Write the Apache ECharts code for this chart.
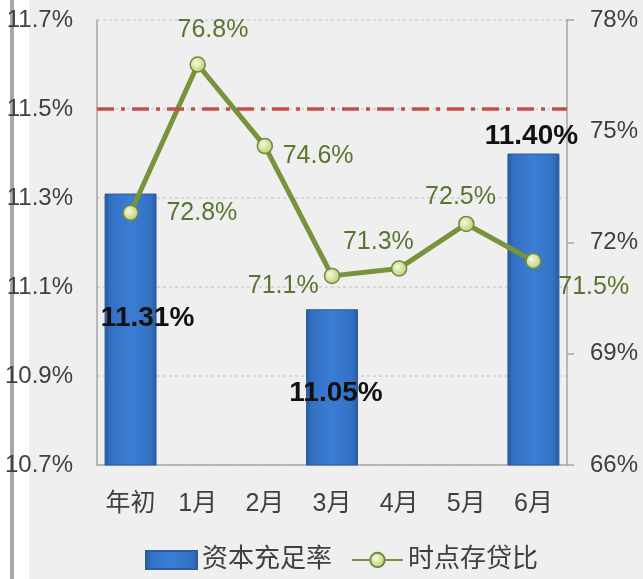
<!DOCTYPE html>
<html><head><meta charset="utf-8">
<script src="https://cdn.jsdelivr.net/npm/echarts@6/dist/echarts.min.js"></script>
<style>html,body{margin:0;padding:0;background:#efefef;}#c{width:643px;height:579px;}</style>
</head><body><div id="c"></div>
<script>
const categories = ['年初','1月','2月','3月','4月','5月','6月'];
const capitalRatio = [11.31, null, null, 11.05, null, null, 11.40];
const loanDepositRatio = [72.8, 76.8, 74.6, 71.1, 71.3, 72.5, 71.5];
const leftTicks = {min: 10.7, max: 11.7, step: 0.2};
const rightTicks = {min: 66, max: 78, step: 3};
const referenceLine = 11.5;
const seriesNames = ['资本充足率', '时点存贷比'];

// label placement (style, not data)
const barLabelPos = [[43, 125], null, null, [30, 84], null, null, [24, -17]];
const lineLabelOffset = [[72, 1], [16, -34], [54, 11], [-48, 11], [-20, -26], [-5, -26], [61, 27]];

const FONT = '"Liberation Sans", Arial, "Noto Sans CJK SC", sans-serif';
const SYM = 15;

const barData = capitalRatio.map((v, i) => {
  if (v === null) return null;
  const p = barLabelPos[i];
  return {
    value: v,
    label: {show: true, position: p, align: 'center', verticalAlign: 'middle'}
  };
});
const lineData = loanDepositRatio.map((v, i) => {
  const o = lineLabelOffset[i];
  return {
    value: v,
    label: {show: true, position: [SYM/2 + o[0], SYM/2 + o[1]], align: 'center', verticalAlign: 'middle'}
  };
});

const chart = echarts.init(document.getElementById('c'), null, {renderer: 'canvas'});
chart.setOption({
  backgroundColor: '#efefef',
  animation: false,
  graphic: [
    {type: 'rect', shape: {x: 0, y: 0, width: 29, height: 579}, style: {fill: '#ffffff'}, z: -10},
    {type: 'rect', shape: {x: 10, y: 0, width: 4, height: 579}, style: {fill: '#a8a8a8'}, z: -9}
  ],
  grid: {left: 97, right: 76, top: 20, bottom: 114},
  legend: {
    bottom: 1, left: 140,
    itemWidth: 51, itemHeight: 18, itemGap: 19,
    textStyle: {fontSize: 26, color: '#404040', fontFamily: FONT},
    data: [{name: seriesNames[0], icon: 'rect'}, {name: seriesNames[1]}]
  },
  xAxis: {
    type: 'category', data: categories,
    axisLine: {lineStyle: {color: '#a6a6a6', width: 1.5}},
    axisTick: {show: false},
    axisLabel: {fontSize: 25, color: '#404040', margin: 27, fontFamily: FONT, interval: 0, hideOverlap: false}
  },
  yAxis: [
    {
      type: 'value', min: leftTicks.min, max: leftTicks.max, interval: leftTicks.step,
      axisLine: {show: true, lineStyle: {color: '#a6a6a6', width: 1.5}},
      axisTick: {show: false},
      splitLine: {show: true, lineStyle: {color: '#cfcfcf', type: [3, 3], width: 1.5}},
      axisLabel: {fontSize: 24, color: '#404040', margin: 24, fontFamily: FONT,
        formatter: v => v.toFixed(1) + '%'}
    },
    {
      type: 'value', min: rightTicks.min, max: rightTicks.max, interval: rightTicks.step,
      position: 'right',
      axisLine: {show: true, lineStyle: {color: '#a6a6a6', width: 1.5}},
      axisTick: {show: true, length: 7, lineStyle: {color: '#a6a6a6', width: 1.5}},
      splitLine: {show: false},
      axisLabel: {fontSize: 24, color: '#404040', margin: 23, fontFamily: FONT,
        formatter: v => Math.round(v) + '%'}
    }
  ],
  series: [
    {
      name: seriesNames[0], type: 'bar', yAxisIndex: 0, barWidth: 52,
      data: barData,
      itemStyle: {
        color: {type: 'linear', x: 0, y: 0, x2: 1, y2: 0, colorStops: [
          {offset: 0, color: '#2a5a9e'}, {offset: 0.12, color: '#3471c4'},
          {offset: 0.5, color: '#3b7dd4'}, {offset: 0.88, color: '#3471c4'},
          {offset: 1, color: '#2a5a9e'}]},
        borderColor: '#2d5d9f', borderWidth: 1
      },
      label: {fontSize: 28, fontWeight: 'bold', color: '#111111', fontFamily: FONT,
        formatter: p => p.value.toFixed(2) + '%'},
      markLine: {
        silent: true, symbol: ['none', 'none'], label: {show: false},
        lineStyle: {color: '#c0504d', width: 3.5, type: [17, 7, 4, 7]},
        data: [{yAxis: referenceLine}]
      },
      z: 2
    },
    {
      name: seriesNames[1], type: 'line', yAxisIndex: 1,
      data: lineData,
      symbol: 'circle', symbolSize: SYM,
      lineStyle: {color: '#77933c', width: 5},
      itemStyle: {
        color: {type: 'radial', x: 0.4, y: 0.4, r: 0.65, colorStops: [
          {offset: 0, color: '#f6f9d8'}, {offset: 1, color: '#b6cb6c'}]},
        borderColor: '#6e8b3d', borderWidth: 1.5
      },
      label: {fontSize: 25, color: '#5a7530', fontFamily: FONT,
        formatter: p => p.value.toFixed(1) + '%'},
      z: 3
    }
  ]
});
</script></body></html>
